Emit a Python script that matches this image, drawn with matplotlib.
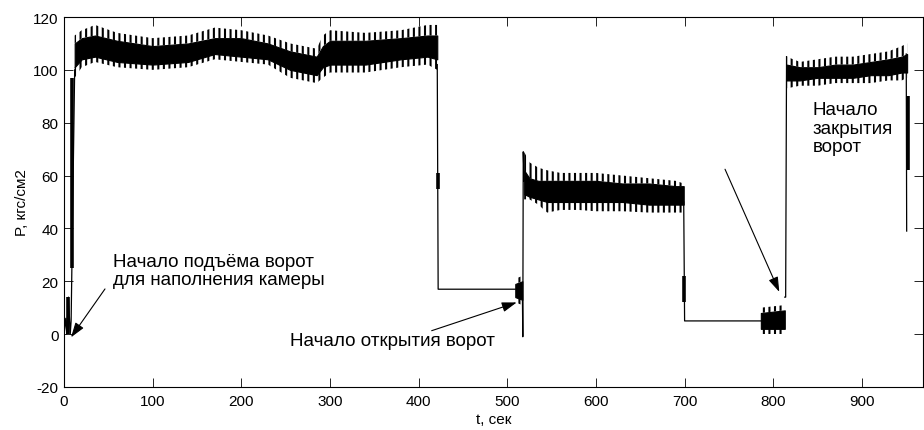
import numpy as np
import matplotlib
matplotlib.use("Agg")
import matplotlib.pyplot as plt

plt.rcParams['font.family'] = ['Liberation Sans', 'DejaVu Sans']
plt.rcParams['hatch.linewidth'] = 1.5
plt.rcParams['axes.unicode_minus'] = False

# oscillating sections: time, spike tops, solid body top/bottom, spike bottoms
band1_t = [12, 20, 35, 60, 100, 140, 170, 200, 230, 255, 270, 285, 292, 300, 340, 380, 410, 421]
band1_peak_hi = [113, 115, 117, 114, 112, 113, 116, 115, 113, 110, 109, 108, 113, 115, 114, 115, 117, 117]
band1_body_hi = [110, 112, 113, 111, 109, 110, 112, 112, 110, 107, 106, 105, 109, 111, 111, 112, 113, 113]
band1_body_lo = [101, 104, 105, 103, 102, 103, 106, 105, 104, 100, 99, 98, 101, 102, 102, 104, 105, 104]
band1_peak_lo = [97, 101, 103, 101, 100, 101, 104, 103, 102, 97, 96, 95, 97, 99, 99, 101, 102, 100]

band2_t = [519, 525, 535, 545, 560, 580, 600, 630, 660, 690, 699]
band2_peak_hi = [69, 65, 63, 62, 61, 61, 61, 60, 59, 58, 57]
band2_body_hi = [62, 59, 58, 58, 58, 58, 58, 57, 57, 56, 56]
band2_body_lo = [53, 52, 51, 50, 50, 50, 50, 50, 49, 49, 49]
band2_peak_lo = [51, 51, 49, 46, 47, 47, 46.5, 46.5, 46, 46, 46]

band3_t = [815, 830, 850, 870, 890, 910, 930, 945, 951]
band3_peak_hi = [105, 103, 104, 105, 105, 106, 107, 109, 110]
band3_body_hi = [102, 101, 101, 102, 102, 103, 104, 105, 106]
band3_body_lo = [96, 96, 97, 97, 97, 98, 98, 99, 99]
band3_peak_lo = [93, 94, 94, 95, 95, 95, 96, 96, 97]

burst1_t = [509, 517]
burst1_peak_hi = [21, 22]
burst1_body_hi = [19, 20]
burst1_body_lo = [14, 13]
burst1_peak_lo = [12, 11]

burst2_t = [786, 813]
burst2_peak_hi = [10, 11]
burst2_body_hi = [8, 9]
burst2_body_lo = [2, 2]
burst2_peak_lo = [0, 0]

# thin connecting trace between the oscillating sections
conn_t = [0, 2, 3, 5, 7, 8, 12, np.nan,
          421, 422, 423, 509, np.nan,
          517, 517.5, 518, 519, np.nan,
          699, 700, 701, 786, np.nan,
          813, 814, 815, np.nan,
          950, 950.5]
conn_p = [0, 6, 0, 14, 0, 5, 100, np.nan,
          102, 17, 17, 17, np.nan,
          16, -1, 69, 58, np.nan,
          50, 5, 5, 5, np.nan,
          14, 14, 105, np.nan,
          106, 39]

# short thick stretches on the fast transitions
thick_t = [5, 9, 422, 699.5, 952]
thick_lo = [0, 25, 55, 12, 62]
thick_hi = [14, 97, 61, 22, 90]

fig = plt.figure(figsize=(9.24, 4.31), dpi=100)
ax = fig.add_axes([0.0693, 0.0998, 0.9297, 0.8584])

bands = [
    (band1_t, band1_peak_hi, band1_body_hi, band1_body_lo, band1_peak_lo),
    (band2_t, band2_peak_hi, band2_body_hi, band2_body_lo, band2_peak_lo),
    (band3_t, band3_peak_hi, band3_body_hi, band3_body_lo, band3_peak_lo),
    (burst1_t, burst1_peak_hi, burst1_body_hi, burst1_body_lo, burst1_peak_lo),
    (burst2_t, burst2_peak_hi, burst2_body_hi, burst2_body_lo, burst2_peak_lo),
]
for t, phi, bhi, blo, plo in bands:
    ax.fill_between(t, blo, bhi, color='k', lw=0.8)
    ax.fill_between(t, bhi, phi, facecolor='none', edgecolor='k', hatch='|||', lw=0)
    ax.fill_between(t, plo, blo, facecolor='none', edgecolor='k', hatch='|||', lw=0)

ax.plot(conn_t, conn_p, color='k', lw=0.9)
ax.vlines(thick_t, thick_lo, thick_hi, color='k', lw=2.6)

ax.set_xlim(0, 969)
ax.set_ylim(-20, 120)
ax.set_xticks(np.arange(0, 901, 100))
ax.set_yticks(np.arange(-20, 121, 20))
ax.tick_params(direction='in', length=6.2, width=0.6, top=True, right=True,
               labelsize=11, pad=4)
ax.tick_params(axis='x', pad=5)
for s in ax.spines.values():
    s.set_linewidth(0.8)

ax.set_xlabel('t, сек', fontsize=11, labelpad=3)
ax.set_ylabel('P, кгс/см2', fontsize=11, labelpad=3)

arrow = dict(arrowstyle='-|>,head_length=0.9,head_width=0.3', color='k', lw=0.8,
             shrinkA=0, shrinkB=0, mutation_scale=10)
ax.annotate('', xy=(7.9, -1.2), xytext=(46.2, 17.1), arrowprops=arrow)
ax.annotate('', xy=(510.6, 12), xytext=(414.7, 1.3), arrowprops=arrow)
ax.annotate('', xy=(806.8, 16), xytext=(745.6, 62.4), arrowprops=arrow)

ax.text(55.3, 24, 'Начало подъёма ворот\nдля наполнения камеры', fontsize=13.5,
        ha='left', va='center', linespacing=1.1)
ax.text(255, -2.5, 'Начало открытия ворот', fontsize=13.5, ha='left', va='center')
ax.text(844.8, 78, 'Начало\nзакрытия\nворот', fontsize=13.5, ha='left', va='center',
        linespacing=1.1)

fig.savefig('out.png', dpi=100)
